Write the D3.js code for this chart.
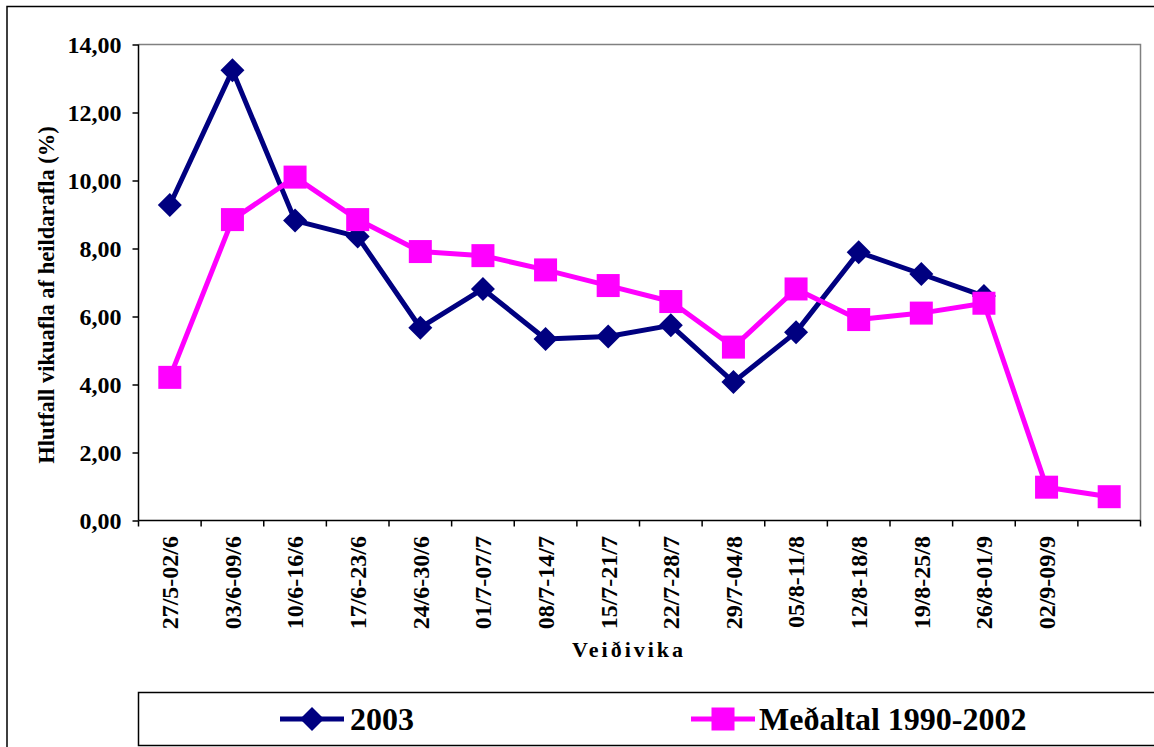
<!DOCTYPE html>
<html>
<head>
<meta charset="utf-8">
<script src="https://cdn.jsdelivr.net/npm/d3@7"></script>
<style>
  body { margin: 0; background: #fff; }
  text { font-family: "Liberation Serif", "Times New Roman", serif; font-weight: bold; fill: #000; }
</style>
</head>
<body>
<script>
// Weeks of the fishing season
var weeks = ["27/5-02/6", "03/6-09/6", "10/6-16/6", "17/6-23/6", "24/6-30/6", "01/7-07/7",
             "08/7-14/7", "15/7-21/7", "22/7-28/7", "29/7-04/8", "05/8-11/8", "12/8-18/8",
             "19/8-25/8", "26/8-01/9", "02/9-09/9", ""];
// Share of weekly catch (%)
var catch2003 = [9.28, 13.24, 8.82, 8.35, 5.67, 6.81, 5.34, 5.41, 5.74, 4.07, 5.54, 7.89, 7.25, 6.6];
var catchAvg = [4.21, 8.85, 10.10, 8.85, 7.91, 7.79, 7.37, 6.91, 6.44, 5.10, 6.81, 5.91, 6.10, 6.39, 0.98, 0.70];
var yTicks = [0, 2, 4, 6, 8, 10, 12, 14];
var seriesNames = ["2003", "Meðaltal 1990-2002"];

var navy = "#000080", pink = "#FF00FF";

var width = 1154, height = 747;
var plot = {left: 138.5, top: 44.5, right: 1140.5, bottom: 520.5};

var svg = d3.select("body").append("svg")
    .attr("width", width)
    .attr("height", height);

// outer chart frame
svg.append("rect")
    .attr("x", 7).attr("y", 6.5)
    .attr("width", width + 10).attr("height", height + 10)
    .attr("fill", "#fff")
    .attr("stroke", "#000").attr("stroke-width", 1.5);

var xScale = d3.scaleBand()
    .domain(d3.range(weeks.length))
    .range([plot.left, plot.right]);
var yScale = d3.scaleLinear()
    .domain([0, 14])
    .range([plot.bottom, plot.top]);

// plot border (gray top/right)
svg.append("path")
    .attr("d", "M" + plot.left + "," + plot.top + "H" + plot.right + "V" + plot.bottom)
    .attr("fill", "none").attr("stroke", "#808080").attr("stroke-width", 1.5);

// Y axis
var yAxis = svg.append("g")
    .attr("transform", "translate(" + plot.left + ",0)")
    .call(d3.axisLeft(yScale).tickValues(yTicks).tickSize(6).tickPadding(11)
        .tickFormat(function(d) { return d3.format(".2f")(d).replace(".", ","); }));
yAxis.selectAll("path, line").attr("stroke", "#000").attr("stroke-width", 1.5);
yAxis.select(".domain").attr("d", "M0," + plot.top + "V" + plot.bottom);
yAxis.selectAll("text")
    .style("font-family", "Liberation Serif, serif")
    .style("font-weight", "bold")
    .style("font-size", "24px")
    .attr("dy", "0.34em");

// X axis: ticks at the week boundaries
var xAxis = svg.append("g");
xAxis.append("line")
    .attr("x1", plot.left).attr("x2", plot.right)
    .attr("y1", plot.bottom).attr("y2", plot.bottom)
    .attr("stroke", "#000").attr("stroke-width", 1.5);
xAxis.selectAll("line.tick")
    .data(d3.range(weeks.length + 1))
    .enter().append("line")
    .attr("class", "tick")
    .attr("x1", function(d) { return plot.left + d * xScale.bandwidth(); })
    .attr("x2", function(d) { return plot.left + d * xScale.bandwidth(); })
    .attr("y1", plot.bottom).attr("y2", plot.bottom + 6)
    .attr("stroke", "#000").attr("stroke-width", 1.5);
xAxis.selectAll("text")
    .data(weeks)
    .enter().append("text")
    .attr("transform", function(d, i) {
        return "translate(" + (xScale(i) + xScale.bandwidth() / 2) + "," + 536 + ")rotate(-90)";
    })
    .attr("text-anchor", "end")
    .attr("dy", "0.35em")
    .style("font-size", "24px")
    .text(function(d) { return d; });

// Axis titles
svg.append("text")
    .attr("x", 629).attr("y", 657)
    .attr("text-anchor", "middle")
    .style("font-size", "22px")
    .style("letter-spacing", "3px")
    .text("Veiðivika");
svg.append("text")
    .attr("transform", "translate(54,295)rotate(-90)")
    .attr("text-anchor", "middle")
    .style("font-size", "22.5px")
    .text("Hlutfall vikuafla af heildarafla (%)");

// Lines & markers
var line = d3.line()
    .x(function(d, i) { return xScale(i) + xScale.bandwidth() / 2; })
    .y(function(d) { return yScale(d); });

function diamond(g, size) {
    g.append("path")
        .attr("d", "M0," + (-size) + "L" + size + ",0L0," + size + "L" + (-size) + ",0Z")
        .attr("fill", navy);
}
function square(g, size) {
    g.append("rect")
        .attr("x", -size).attr("y", -size)
        .attr("width", 2 * size).attr("height", 2 * size)
        .attr("fill", pink);
}

svg.append("path")
    .datum(catch2003)
    .attr("d", line)
    .attr("fill", "none").attr("stroke", navy).attr("stroke-width", 5)
    .attr("stroke-linejoin", "round");
svg.selectAll("g.navyPt")
    .data(catch2003)
    .enter().append("g")
    .attr("class", "navyPt")
    .attr("transform", function(d, i) {
        return "translate(" + (xScale(i) + xScale.bandwidth() / 2) + "," + yScale(d) + ")";
    })
    .each(function() { diamond(d3.select(this), 12); });

svg.append("path")
    .datum(catchAvg)
    .attr("d", line)
    .attr("fill", "none").attr("stroke", pink).attr("stroke-width", 5)
    .attr("stroke-linejoin", "round");
svg.selectAll("g.pinkPt")
    .data(catchAvg)
    .enter().append("g")
    .attr("class", "pinkPt")
    .attr("transform", function(d, i) {
        return "translate(" + (xScale(i) + xScale.bandwidth() / 2) + "," + yScale(d) + ")";
    })
    .each(function() { square(d3.select(this), 11.5); });

// Legend
var legend = svg.append("g");
legend.append("rect")
    .attr("x", 138.5).attr("y", 692.5)
    .attr("width", 1030).attr("height", 53)
    .attr("fill", "#fff").attr("stroke", "#000").attr("stroke-width", 1.5);

var items = [
    {name: seriesNames[0], color: navy, x0: 280, x1: 344, text: 350, mark: diamond},
    {name: seriesNames[1], color: pink, x0: 691, x1: 755, text: 759, mark: square}
];
items.forEach(function(it) {
    legend.append("line")
        .attr("x1", it.x0).attr("x2", it.x1)
        .attr("y1", 719).attr("y2", 719)
        .attr("stroke", it.color).attr("stroke-width", 5);
    var m = legend.append("g")
        .attr("transform", "translate(" + (it.x0 + it.x1) / 2 + ",719)");
    it.mark(m, it.mark === diamond ? 12 : 11.5);
    legend.append("text")
        .attr("x", it.text).attr("y", 730)
        .style("font-size", "32px")
        .text(it.name);
});
</script>
</body>
</html>
